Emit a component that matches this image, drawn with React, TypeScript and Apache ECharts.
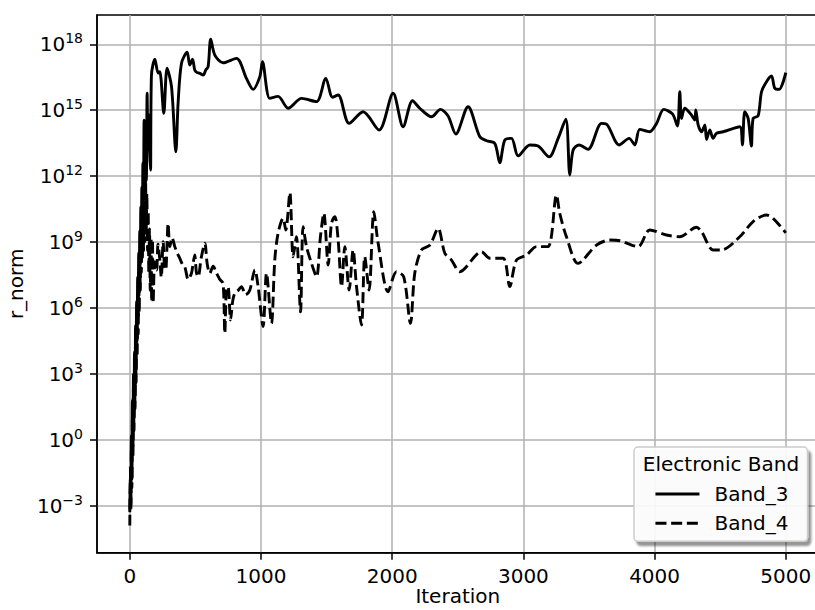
import React, { useEffect, useRef } from "react";
import * as echarts from "echarts";

// [iteration, log10(r_norm)]
const band3: number[][] = [
  [0, -3.3], [4, -1.2], [8, -3.0], [12, 0.2], [16, -1.8], [20, 1.8], [24, -0.3], [28, 3.0], [32, 1.0], [36, 4.0],
  [40, 2.0], [44, 5.2], [48, 3.2], [52, 6.3], [56, 4.5], [60, 7.4], [64, 5.6], [68, 8.5], [72, 6.8], [76, 9.5],
  [80, 8.0], [84, 10.6], [88, 9.0], [92, 11.5], [96, 10.0], [100, 12.6], [104, 11.0], [109, 14.55], [114, 11.2],
  [120, 13.5], [126, 11.8], [132, 15.77], [138, 13.2], [145, 14.8], [152, 13.0], [158, 12.28], [165, 16.6],
  [191, 17.32], [216, 16.69], [229, 16.75], [259, 14.86], [284, 16.91], [318, 16.07], [351, 13.11], [368, 15.31],
  [394, 17.14], [437, 17.64], [457, 17.06], [478, 17.32], [495, 16.83], [513, 16.71], [534, 16.68], [559, 16.6],
  [579, 16.83], [597, 16.98], [617, 18.23], [648, 17.51], [711, 17.16], [813, 17.36], [889, 16.45], [940, 15.95],
  [991, 16.53], [1011, 17.21], [1067, 15.54], [1130, 15.63], [1207, 15.09], [1309, 15.54], [1423, 15.39],
  [1494, 16.45], [1545, 15.59], [1588, 15.69], [1672, 14.4], [1778, 14.93], [1900, 14.1], [2007, 15.77],
  [2083, 14.25], [2155, 15.43], [2210, 15.09], [2300, 14.7], [2368, 15.04], [2426, 14.74], [2485, 13.92],
  [2578, 15.16], [2668, 13.79], [2719, 13.61], [2782, 13.49], [2820, 12.61], [2858, 13.64], [2909, 13.72],
  [2960, 12.92], [3049, 13.42], [3112, 13.37], [3196, 12.88], [3265, 13.72], [3323, 14.59], [3354, 12.05],
  [3379, 13.19], [3425, 13.42], [3493, 13.22], [3595, 14.4], [3633, 14.37], [3730, 13.42], [3806, 13.72],
  [3849, 13.42], [3887, 14.13], [3963, 14.02], [4015, 14.4], [4070, 15.04], [4136, 14.83], [4174, 14.28],
  [4192, 15.84], [4205, 14.63], [4230, 15.09], [4281, 14.78], [4306, 14.55], [4314, 15.01], [4332, 14.33],
  [4358, 14.02], [4383, 14.33], [4396, 13.67], [4421, 14.1], [4446, 13.72], [4472, 13.95], [4522, 14.02],
  [4649, 14.25], [4669, 13.42], [4687, 14.93], [4713, 14.63], [4738, 13.37], [4751, 14.63], [4789, 14.74],
  [4815, 15.84], [4853, 16.3], [4891, 16.56], [4916, 16.0], [4949, 15.95], [5000, 16.71],
];

const band4: number[][] = [
  [0, -3.9], [4, -1.8], [8, -3.2], [12, -0.4], [16, -2.2], [20, 1.2], [24, -0.8], [28, 2.4], [32, 0.4], [36, 3.4],
  [40, 1.4], [44, 4.5], [48, 2.6], [52, 5.6], [56, 3.8], [60, 6.6], [64, 4.8], [68, 7.6], [72, 5.8], [76, 8.6],
  [80, 6.8], [84, 9.4], [88, 7.6], [92, 10.2], [96, 8.2], [100, 10.8], [105, 8.6], [110, 11.6], [115, 9.0],
  [120, 12.0], [125, 9.4], [130, 11.2], [135, 8.6], [140, 10.4], [145, 7.6], [150, 9.6], [156, 6.8], [162, 9.2],
  [167, 6.3], [173, 9.09], [178, 6.22], [190, 8.1], [204, 7.73], [215, 8.9], [229, 8.18], [240, 7.4], [254, 9.02],
  [264, 7.9], [274, 7.73], [282, 8.6], [292, 9.85], [305, 8.79], [322, 9.2], [343, 8.79], [362, 8.5], [381, 8.26],
  [400, 8.0], [419, 7.88], [445, 7.3], [470, 7.58], [482, 8.0], [495, 8.41], [508, 7.6], [521, 7.42], [545, 8.3],
  [572, 8.94], [590, 8.0], [610, 7.58], [635, 7.9], [661, 7.58], [686, 7.3], [711, 7.12], [724, 4.85], [736, 6.8],
  [749, 6.97], [768, 5.45], [784, 6.3], [800, 6.67], [826, 6.8], [851, 6.97], [883, 6.6],
  [915, 6.82], [953, 7.73], [978, 6.97], [1016, 5.15], [1042, 7.58], [1080, 5.3], [1105, 8.18], [1130, 9.4],
  [1168, 10.08], [1189, 9.55], [1220, 11.25], [1245, 8.33], [1270, 9.24], [1301, 5.83], [1321, 9.7], [1347, 8.79],
  [1385, 8.03], [1423, 7.42], [1453, 9.24], [1479, 10.31], [1512, 7.95], [1537, 9.85], [1563, 10.15], [1588, 9.09],
  [1614, 6.97], [1639, 8.79], [1672, 6.82], [1702, 8.64], [1728, 6.97], [1766, 5.22], [1791, 8.33], [1824, 6.82],
  [1860, 10.38], [1893, 8.94], [1969, 6.74], [2033, 7.65], [2088, 7.42], [2139, 5.3], [2172, 7.58], [2223, 8.64],
  [2287, 8.86], [2350, 9.62], [2401, 8.49], [2452, 8.18], [2515, 7.65], [2681, 8.56], [2744, 8.26], [2846, 8.26],
  [2896, 6.97], [2947, 8.18], [3024, 8.41], [3100, 8.79], [3188, 8.79], [3252, 11.14], [3277, 10.31], [3328, 9.24],
  [3417, 8.03], [3557, 8.86], [3659, 9.09], [3735, 9.06], [3874, 8.79], [3963, 9.55], [4090, 9.32], [4192, 9.24],
  [4319, 9.67], [4358, 9.47], [4446, 8.64], [4510, 8.64], [4649, 9.24], [4751, 9.93], [4853, 10.23], [4903, 10.08],
  [5000, 9.42],
];

const seriesNames = ["Band_3", "Band_4"];
const xTicks = [0, 1000, 2000, 3000, 4000, 5000];
const yTickExponents = [-3, 0, 3, 6, 9, 12, 15, 18];
const legendTitle = "Electronic Band";
const xName = "Iteration";
const yName = "r_norm";

const FONT = "DejaVu Sans";
const FS = 20;

export default function App() {
  const ref = useRef<HTMLDivElement>(null);
  useEffect(() => {
    if (!ref.current) return;
    const chart = echarts.init(ref.current, null, { renderer: "svg" });
    const axisCommon = {
      axisLine: { show: true, onZero: false, lineStyle: { color: "#000", width: 1.5 } },
      splitLine: { show: true, lineStyle: { color: "#b0b0b0", width: 1.5 } },
      nameLocation: "middle" as const,
    };
    chart.setOption({
      animation: false,
      backgroundColor: "#ffffff",
      grid: {
        left: 97,
        top: 15,
        right: -3.6,
        bottom: 57.3,
        outerBoundsMode: "none",
        containLabel: false,
        show: true,
        borderColor: "#000",
        borderWidth: 1.5,
        backgroundColor: "transparent",
      },
      xAxis: {
        type: "value",
        min: -250,
        max: 5250,
        ...axisCommon,
        name: xName,
        nameGap: 35,
        nameMoveOverlap: false,
        nameTextStyle: { fontSize: FS, fontFamily: FONT, color: "#000", lineHeight: 16 },
        axisTick: { show: true, length: 7, lineStyle: { color: "#000", width: 1.5 }, customValues: xTicks },
        axisLabel: {
          customValues: xTicks,
          margin: 13,
          fontSize: FS,
          fontFamily: FONT,
          color: "#000",
          formatter: (v: number) => String(Math.round(v)),
        },
      },
      yAxis: {
        type: "value",
        min: -5.14,
        max: 19.334,
        ...axisCommon,
        name: yName,
        nameGap: 64,
        nameTextStyle: { fontSize: FS, fontFamily: FONT, color: "#000" },
        axisTick: { show: true, length: 7, lineStyle: { color: "#000", width: 1.5 }, customValues: yTickExponents },
        axisLabel: {
          customValues: yTickExponents,
          margin: 14,
          formatter: (v: number) => {
            const n = Math.round(v);
            const e = n < 0 ? "\u2212" + -n : String(n);
            return "{b|10}{s|" + e + "}";
          },
          rich: {
            b: { fontSize: FS, fontFamily: FONT, color: "#000", lineHeight: 26, verticalAlign: "middle" },
            s: { fontSize: 14, fontFamily: FONT, color: "#000", lineHeight: 17, verticalAlign: "top" },
          },
        },
      },
      legend: {
        orient: "vertical",
        left: 634,
        top: 447,
        padding: [37, 19, 8, 20],
        itemWidth: 44,
        itemHeight: 20,
        itemGap: 9.3,
        backgroundColor: "rgba(255,255,255,0.9)",
        borderColor: "#cccccc",
        borderWidth: 1.5,
        borderRadius: 4,
        shadowColor: "rgba(0,0,0,0.45)",
        shadowBlur: 2,
        shadowOffsetX: 3,
        shadowOffsetY: 4,
        itemStyle: { opacity: 0 },
        lineStyle: { width: 2.9 },
        textStyle: {
          fontSize: FS,
          fontFamily: FONT,
          color: "#000",
          rich: { t: { fontSize: FS, fontFamily: FONT, color: "#000", padding: [0, 0, 0, 10] } },
        },
        formatter: (name: string) => "{t|" + name + "}",
        data: seriesNames,
      },
      graphic: [
        {
          type: "text",
          x: 721,
          y: 464,
          z: 100,
          style: {
            text: legendTitle,
            fontSize: FS,
            fontFamily: FONT,
            fill: "#000",
            textAlign: "center",
            textVerticalAlign: "middle",
          },
        },
      ],
      series: [
        {
          name: seriesNames[0],
          type: "line",
          data: band3,
          symbol: "none",
          smooth: 0.3,
          lineStyle: { color: "#000", width: 2.9, join: "round" },
          itemStyle: { color: "#000" },
        },
        {
          name: seriesNames[1],
          type: "line",
          data: band4,
          symbol: "none",
          smooth: 0.3,
          lineStyle: { color: "#000", width: 2.9, type: [11, 4.7], join: "round" },
          itemStyle: { color: "#000" },
        },
      ],
    });
    return () => chart.dispose();
  }, []);
  return (
    <div
      ref={ref}
      style={{ position: "absolute", left: 0, top: 0, width: 815, height: 610, background: "#fff" }}
    />
  );
}
